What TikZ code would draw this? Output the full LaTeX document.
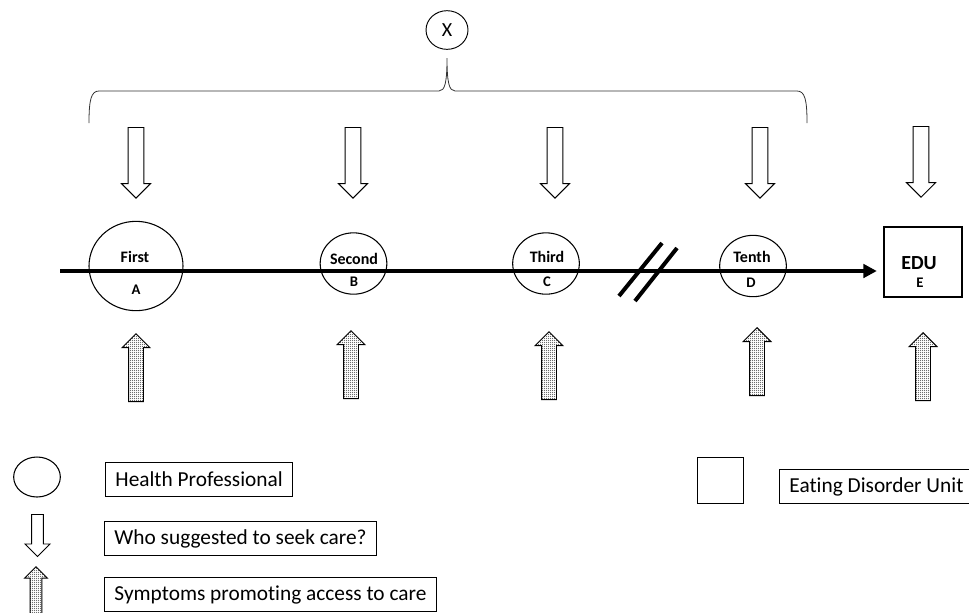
\documentclass[tikz,border=0pt]{standalone}
\usepackage{fontspec}
\setmainfont{Carlito}[Ligatures={NoCommon}]
\usetikzlibrary{shapes.geometric,shapes.arrows,arrows.meta,patterns.meta}

\tikzdeclarepattern{
  name=stipple,
  type=uncolored,
  bottom left={(0pt,0pt)},
  top right={(1.5pt,1.5pt)},
  tile size={(1.5pt,1.5pt)},
  code={\pgfpathcircle{\pgfqpoint{0.75pt}{0.75pt}}{0.5pt}\pgfusepath{fill}}
}

\tikzset{
  hp/.style={draw, ellipse, line width=0.8pt, inner sep=0pt, minimum width=50pt, minimum height=46pt},
  unit/.style={draw, rectangle, line width=0.8pt, inner sep=0pt},
  lbl/.style={font=\bfseries\fontsize{12}{14}\selectfont},
  ltr/.style={font=\bfseries\fontsize{11}{13}\selectfont},
  who/.style={draw, single arrow, shape border rotate=270, line width=0.7pt, inner sep=5.6pt,
    minimum height=53pt, minimum width=21pt, single arrow head extend=4.9pt, single arrow tip angle=90},
  symp/.style={who, shape border rotate=90, inner sep=5.25pt, minimum height=51pt, pattern=stipple},
  key/.style={draw, line width=0.7pt, inner xsep=7.5pt, minimum height=26pt, anchor=west,
    font=\fontsize{16}{19}\selectfont},
  timeline/.style={line width=3pt, -{Triangle[length=10pt,width=10pt]}, shorten >=5pt},
  brk/.style={line width=3pt},
  brace/.style={line width=0.6pt, black!80}
}

\begin{document}
\begin{tikzpicture}[x=0.75pt, y=-0.75pt]
    \useasboundingbox (0,0) rectangle (969,612);

    \node[draw, ellipse, line width=0.7pt, minimum width=31.5pt, minimum height=29pt, inner sep=0pt,
      font=\fontsize{15}{18}\selectfont] (x) at (447,30) {X};
    \coordinate (bracetip) at (447,58);
    \draw[brace] (89,123) .. controls (89,100) and (91,91) .. (99,91) -- (439,91)
      .. controls (445,91) and (447,82) .. (bracetip)
      .. controls (447,82) and (449,91) .. (455,91) -- (797,91)
      .. controls (805,91) and (807,100) .. (807,123);

    \node[who, anchor=tail] (wa) at (136,127) {};
    \node[who, anchor=tail] (wb) at (353,127) {};
    \node[who, anchor=tail] (wc) at (555,127) {};
    \node[who, anchor=tail] (wd) at (760,127) {};
    \node[who, anchor=tail] (we) at (921,126) {};

    \node[hp, minimum width=70.5pt, minimum height=67pt] (a) at (136,266) {};
    \node[hp] (b) at (353.5,263.5) {};
    \node[hp] (c) at (546,263.5) {};
    \node[hp] (d) at (753,266) {};
    \node[unit, minimum width=58.5pt, minimum height=52.5pt] (e) at (923,262) {};

    \node[lbl] (afirst) at (135,257) {First};
    \node[ltr] (aletter) at (136,290) {A};
    \node[lbl] (bsecond) at (354,259) {Second};
    \node[ltr] (bletter) at (354,282) {B};
    \node[lbl] (cthird) at (547,257) {Third};
    \node[ltr] (cletter) at (547,282) {C};
    \node[lbl] (dtenth) at (752,257) {Tenth};
    \node[ltr] (dletter) at (751,283) {D};
    \node[font=\bfseries\fontsize{15}{18}\selectfont] (eedu) at (919,263) {EDU};
    \node[ltr] (eletter) at (920,283) {E};

    \coordinate (start) at (60,271);
    \draw[timeline] (start) -- (e.west |- start);

    \draw[brk] (619,296) -- (662,243);
    \draw[brk] (635,301) -- (677,248);

    \node[symp, anchor=tip] (sa) at (136,333) {};
    \node[symp, anchor=tip] (sb) at (351,330) {};
    \node[symp, anchor=tip] (sc) at (549,331) {};
    \node[symp, anchor=tip] (sd) at (757,327) {};
    \node[symp, anchor=tip] (se) at (923,332) {};

    \node[hp, minimum width=35pt, minimum height=30pt] (khp) at (37,477) {};
    \node[key] (thp) at (105,479.5) {Health Professional};
    \node[who, anchor=tail, inner sep=4.1pt, minimum height=31.5pt, minimum width=18pt] (kwho) at (37.5,514) {};
    \node[key] (twho) at (104,538.5) {Who suggested to seek care?};
    \node[symp, anchor=tip, inner sep=4.1pt, minimum height=42pt, minimum width=16.5pt, single arrow head extend=4.1pt] (ksymp) at (36,566) {};
    \node[key] (tsymp) at (104,594.5) {Symptoms promoting access to care};
    \node[unit, minimum width=35pt, minimum height=35pt] (kunit) at (720.5,480.5) {};
    \node[key] (tunit) at (779,486.5) {Eating Disorder Unit};
\end{tikzpicture}
\end{document}
